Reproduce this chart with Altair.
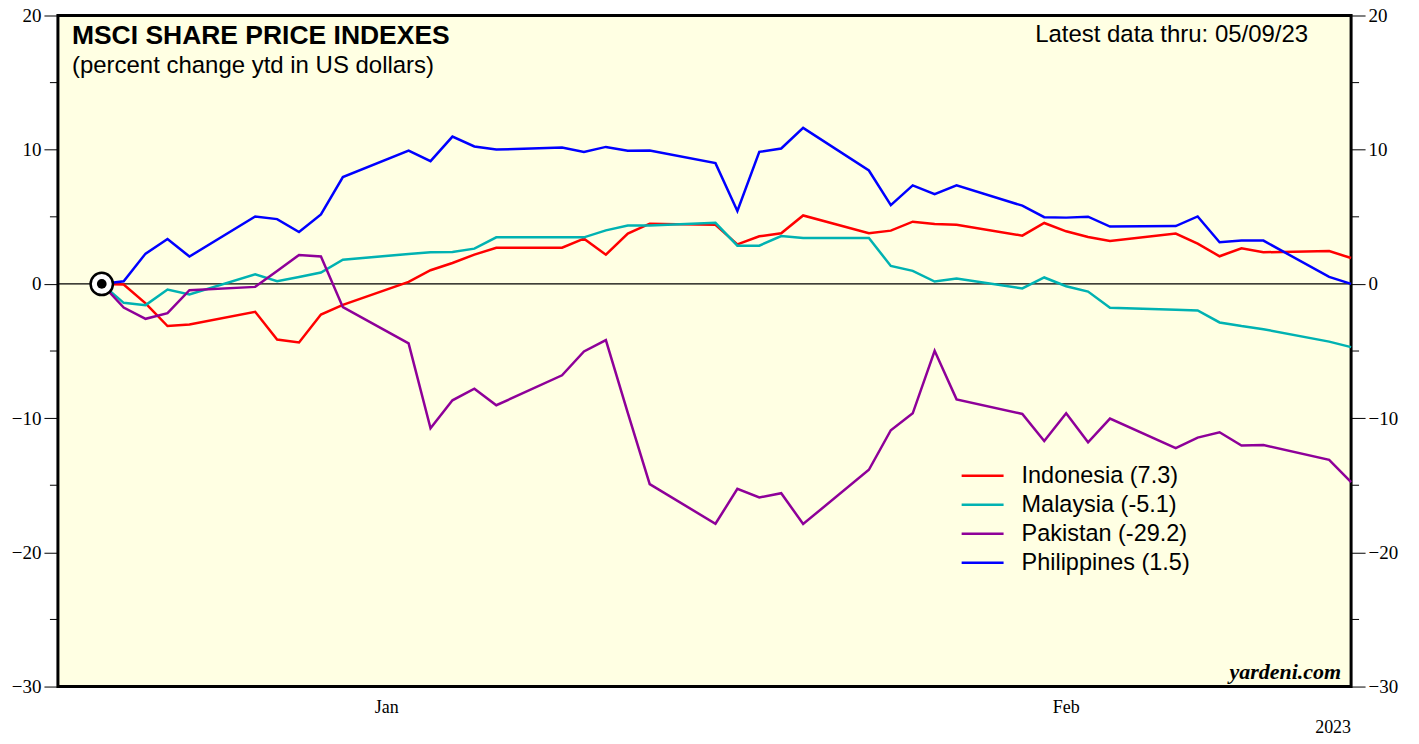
import altair as alt
import pandas as pd

# ---------------- data ----------------
dates = [
    "2023-01-02", "2023-01-03", "2023-01-04", "2023-01-05", "2023-01-06",
    "2023-01-09", "2023-01-10", "2023-01-11", "2023-01-12", "2023-01-13",
    "2023-01-16", "2023-01-17", "2023-01-18", "2023-01-19", "2023-01-20",
    "2023-01-23", "2023-01-24", "2023-01-25", "2023-01-26", "2023-01-27",
    "2023-01-30", "2023-01-31",
    "2023-02-01", "2023-02-02", "2023-02-03",
    "2023-02-06", "2023-02-07", "2023-02-08", "2023-02-09", "2023-02-10",
    "2023-02-13", "2023-02-14", "2023-02-15", "2023-02-16", "2023-02-17",
    "2023-02-20", "2023-02-21", "2023-02-22", "2023-02-23", "2023-02-24",
    "2023-02-27", "2023-02-28",
]

indonesia = [
    0.0, -0.05, -1.45, -3.14, -3.02, -2.08, -4.14, -4.36, -2.28, -1.56,
    0.15, 1.02, 1.56, 2.18, 2.70, 2.70, 3.37, 2.18, 3.75, 4.49, 4.40, 2.95,
    3.55, 3.77, 5.10, 3.77, 3.97, 4.64, 4.46, 4.41, 3.60, 4.54, 3.92, 3.50,
    3.20, 3.75, 3.00, 2.06, 2.65, 2.36, 2.45, 1.93,
]
malaysia = [
    0.0, -1.41, -1.58, -0.42, -0.79, 0.72, 0.20, 0.52, 0.85, 1.81,
    2.23, 2.36, 2.38, 2.63, 3.47, 3.47, 3.47, 3.99, 4.36, 4.36, 4.55, 2.85,
    2.85, 3.57, 3.42, 3.42, 1.34, 0.97, 0.18, 0.40, -0.34, 0.48, -0.17, -0.57,
    -1.78, -1.93, -1.98, -2.87, -3.14, -3.37, -4.30, -4.71,
]
pakistan = [
    0.0, -1.76, -2.60, -2.18, -0.47, -0.22, 0.97, 2.16, 2.04, -1.73,
    -4.43, -10.75, -8.67, -7.81, -9.04, -6.81, -5.03, -4.19, -9.60, -14.92, -17.87, -15.27,
    -15.91, -15.59, -17.89, -13.85, -10.90, -9.64, -4.98, -8.60, -9.69, -11.70, -9.64, -11.80,
    -10.03, -12.24, -11.45, -11.05, -12.04, -12.01, -13.11, -14.77,
]
philippines = [
    0.0, 0.20, 2.26, 3.35, 2.04, 5.03, 4.83, 3.87, 5.18, 7.96,
    9.94, 9.15, 10.98, 10.24, 10.01, 10.16, 9.84, 10.21, 9.92, 9.94, 9.00, 5.43,
    9.84, 10.09, 11.63, 8.45, 5.87, 7.34, 6.69, 7.34, 5.83, 4.97, 4.94, 5.01,
    4.27, 4.31, 5.03, 3.10, 3.23, 3.23, 0.52, 0.0,
]

countries = ["Indonesia", "Malaysia", "Pakistan", "Philippines"]
legend_labels = ["Indonesia (7.3)", "Malaysia (-5.1)", "Pakistan (-29.2)", "Philippines (1.5)"]
colors = ["#FF0000", "#00B2B2", "#8E0099", "#0000FF"]

y_major = [-30, -20, -10, 0, 10, 20]
y_minor = [-25, -15, -5, 5, 15]
x_tick_dates = [(2022, 12, 31), (2023, 1, 31), (2023, 2, 28)]
month_labels = ["Jan", "Feb"]
month_label_dates = ["2023-01-15", "2023-02-15"]
base_date = ["2023-01-02"]
base_value = [0.0]

title_text = "MSCI SHARE PRICE INDEXES"
subtitle_text = "(percent change ytd in US dollars)"
latest_text = "Latest data thru: 05/09/23"
source_text = "yardeni.com"
year_text = "2023"

# ---------------- layout ----------------
W, H = 1295, 672
SANS = "Liberation Sans"
SERIF = "Liberation Serif"

series = {"Indonesia": indonesia, "Malaysia": malaysia,
          "Pakistan": pakistan, "Philippines": philippines}
df = pd.concat(
    [pd.DataFrame({"date": dates, "country": c, "value": v}) for c, v in series.items()],
    ignore_index=True,
)


def dt(t):
    return alt.DateTime(year=t[0], month=t[1], date=t[2], utc=True)


xscale = alt.Scale(type="utc", domain=[dt(x_tick_dates[0]), dt(x_tick_dates[-1])])
yscale = alt.Scale(domain=[-30, 20], nice=False, zero=False)
cscale = alt.Scale(domain=countries, range=colors)

x_axis = alt.Axis(values=[dt(t) for t in x_tick_dates], labels=False, tickSize=17,
                  tickWidth=2, tickColor="black", domain=False, grid=False, title=None)


def y_axis(orient):
    return alt.Axis(orient=orient, values=y_major, tickSize=14, tickWidth=1,
                    tickColor="black", domain=False, grid=False, title=None,
                    labelFont=SERIF, labelFontSize=19, labelColor="black",
                    labelPadding=3, format="d")


zero = alt.Chart(pd.DataFrame({"v": [0]})).mark_rule(color="black", strokeWidth=1.2).encode(
    y=alt.Y("v:Q", scale=yscale, axis=None)
)

lines = alt.Chart(df).mark_line(strokeWidth=2.5).encode(
    x=alt.X("date:T", scale=xscale, axis=x_axis),
    y=alt.Y("value:Q", scale=yscale, axis=y_axis("left")),
    color=alt.Color("country:N", scale=cscale, legend=None),
)

right_axis = alt.Chart(pd.DataFrame({"v": y_major})).mark_tick(opacity=0).encode(
    y=alt.Y("v:Q", scale=yscale, axis=y_axis("right"))
)

minor_left = alt.Chart(pd.DataFrame({"v": y_minor})).mark_rule(color="black", strokeWidth=1).encode(
    y=alt.Y("v:Q", scale=yscale, axis=None), x=alt.value(-8), x2=alt.value(0)
)
minor_right = alt.Chart(pd.DataFrame({"v": y_minor})).mark_rule(color="black", strokeWidth=1).encode(
    y=alt.Y("v:Q", scale=yscale, axis=None), x=alt.value(W), x2=alt.value(W + 8)
)

base_df = pd.DataFrame({"date": base_date, "value": base_value})
ring = alt.Chart(base_df).mark_point(shape="circle", filled=True, fill="white", stroke="black",
                                     strokeWidth=2.5, size=500, opacity=1).encode(
    x=alt.X("date:T", scale=xscale, axis=None), y=alt.Y("value:Q", scale=yscale, axis=None)
)
dot = alt.Chart(base_df).mark_point(shape="circle", filled=True, color="black",
                                    size=95, opacity=1).encode(
    x=alt.X("date:T", scale=xscale, axis=None), y=alt.Y("value:Q", scale=yscale, axis=None)
)

months = alt.Chart(pd.DataFrame({"date": month_label_dates, "t": month_labels})).mark_text(
    font=SERIF, fontSize=18, color="black", baseline="middle", align="center"
).encode(x=alt.X("date:T", scale=xscale, axis=None), y=alt.value(H + 21), text="t:N")


def label(txt, x, y, size, align="left", weight="normal", font=SANS, style="normal"):
    return alt.Chart(pd.DataFrame({"t": [txt]})).mark_text(
        font=font, fontSize=size, fontWeight=weight, fontStyle=style, color="black",
        align=align, baseline="middle"
    ).encode(x=alt.value(x), y=alt.value(y), text="t:N")


title = label(title_text, 14, 21, 26.5, weight="bold")
subtitle = label(subtitle_text, 14, 51, 24)
latest = label(latest_text, 1252, 20, 24, align="right")
source = label(source_text, W - 10, 657, 22, align="right", weight="bold", font=SERIF, style="italic")
year = label(year_text, W, H + 42, 18, align="right", font=SERIF)

leg_df = pd.DataFrame({"country": countries, "label": legend_labels, "idx": list(range(len(countries)))})
leg_lines = alt.Chart(leg_df).transform_calculate(ly="461 + 29 * datum.idx").mark_rule(
    strokeWidth=2.5).encode(
    x=alt.value(905), x2=alt.value(947),
    y=alt.Y("ly:Q", scale=None, axis=None),
    color=alt.Color("country:N", scale=cscale, legend=None),
)
leg_text = alt.Chart(leg_df).transform_calculate(ly="461 + 29 * datum.idx").mark_text(
    font=SANS, fontSize=23.5, color="black", align="left", baseline="middle").encode(
    x=alt.value(965), y=alt.Y("ly:Q", scale=None, axis=None), text="label:N"
)

chart = alt.layer(
    zero, lines, right_axis, minor_left, minor_right, ring, dot, months,
    title, subtitle, latest, source, year, leg_lines, leg_text,
).resolve_axis(y="independent").properties(
    width=W, height=H,
    padding={"left": 50, "top": 7, "right": 60, "bottom": 49},
    autosize=alt.AutoSizeParams(type="none"),
    background="white",
).configure_view(stroke="black", strokeWidth=3, fill="#FFFFE3")

chart.save("out.html", embed_options={"renderer": "svg", "actions": False})
